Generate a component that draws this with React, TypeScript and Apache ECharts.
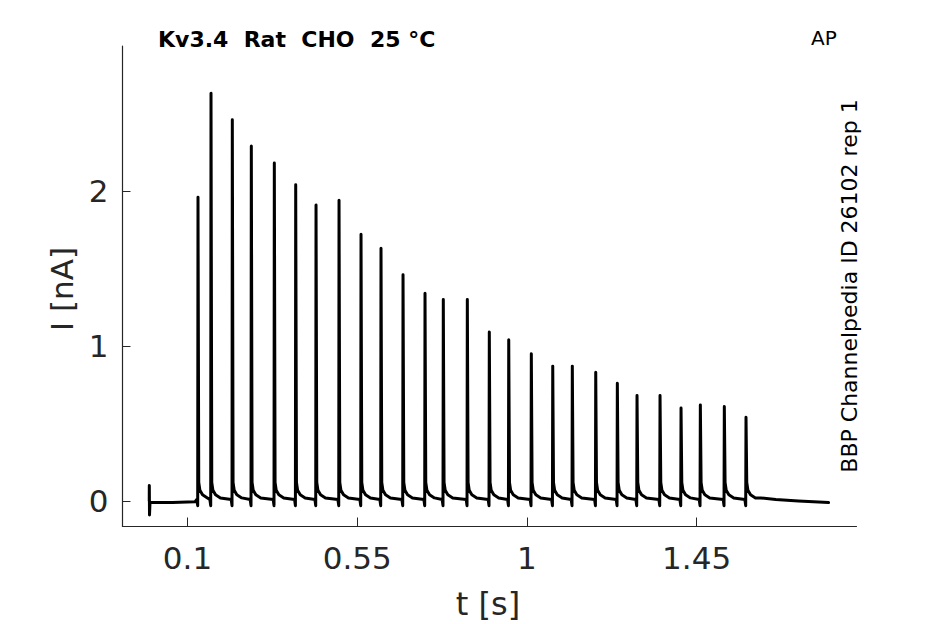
import React, { useEffect, useRef } from "react";
import * as echarts from "echarts";

// Spike peak times (s) and peak currents (nA)
const spikeTimes = [
  0.1278, 0.1623, 0.2188, 0.2692, 0.3302, 0.3869, 0.4408, 0.5018, 0.5601,
  0.6131, 0.6715, 0.7298, 0.7783, 0.842, 0.9003, 0.9518, 1.0117, 1.0685,
  1.1204, 1.1825, 1.2398, 1.292, 1.353, 1.4087, 1.4599, 1.5235, 1.581,
];
const spikePeaks = [
  1.96, 2.63, 2.46, 2.29, 2.18, 2.04, 1.91, 1.94, 1.72, 1.63, 1.46, 1.34,
  1.3, 1.3, 1.09, 1.04, 0.95, 0.87, 0.87, 0.83, 0.76, 0.68, 0.68, 0.6, 0.62,
  0.61, 0.54,
];
// Waveform around each spike: offsets (s) from the peak and levels (nA); null = the peak
const spikeOffsets = [-0.003, -0.0008, 0, 0.002, 0.005, 0.012, 0.025];
const spikeLevels: (number | null)[] = [0.01, -0.03, null, 0.12, 0.07, 0.04, 0.02];
// Start of the trace (capacitive artefact) and its end after the last spike
const leadTimes = [-0.0015, -0.0013, -0.0008, 0.0005, 0.06, 0.12];
const leadLevels = [0.0, 0.1, -0.09, -0.01, -0.01, -0.005];
const tailTimes = [1.62, 1.66, 1.72, 1.8];
const tailLevels = [0.02, 0.01, 0.0, -0.01];

const xTicks = [0.1, 0.55, 1, 1.45];
const yTicks = [0, 1, 2];

function buildTrace(): number[][] {
  const pts: number[][] = [];
  leadTimes.forEach((t, i) => pts.push([t, leadLevels[i]]));
  spikeTimes.forEach((ts, k) => {
    const next = k + 1 < spikeTimes.length ? spikeTimes[k + 1] : Infinity;
    spikeOffsets.forEach((dt, j) => {
      const t = ts + dt;
      if (dt > 0 && t > next - 0.004) return;
      const lv = spikeLevels[j];
      pts.push([t, lv === null ? spikePeaks[k] : lv]);
    });
  });
  tailTimes.forEach((t, i) => pts.push([t, tailLevels[i]]));
  return pts;
}

const AXIS_COLOR = "#262626";
const FONT = "DejaVu Sans";

export default function App() {
  const ref = useRef<HTMLDivElement>(null);
  useEffect(() => {
    if (!ref.current) return;
    const chart = echarts.init(ref.current, undefined, { renderer: "svg" });
    chart.setOption({
      animation: false,
      backgroundColor: "#ffffff",
      grid: { left: 122.5, top: 46, right: 88.5, bottom: 97.5, containLabel: false },
      xAxis: {
        type: "value",
        min: -0.0724,
        max: 1.874,
        axisLine: { show: true, onZero: false, lineStyle: { color: AXIS_COLOR, width: 1.2 } },
        axisTick: {
          show: true,
          inside: true,
          length: 9,
          customValues: xTicks,
          lineStyle: { color: AXIS_COLOR, width: 1 },
        },
        axisLabel: {
          customValues: xTicks,
          color: AXIS_COLOR,
          fontFamily: FONT,
          fontSize: 31,
          margin: 16,
        },
        splitLine: { show: false },
      },
      yAxis: {
        type: "value",
        min: -0.1645,
        max: 2.935,
        axisLine: { show: true, onZero: false, lineStyle: { color: AXIS_COLOR, width: 1.2 } },
        axisTick: {
          show: true,
          inside: true,
          length: 8,
          customValues: yTicks,
          lineStyle: { color: AXIS_COLOR, width: 1 },
        },
        axisLabel: {
          customValues: yTicks,
          color: AXIS_COLOR,
          fontFamily: FONT,
          fontSize: 31,
          margin: 14,
        },
        splitLine: { show: false },
      },
      graphic: [
        {
          type: "text",
          left: 158,
          top: 28,
          style: {
            text: "Kv3.4  Rat  CHO  25 °C",
            fontFamily: FONT,
            fontWeight: "bold",
            fontSize: 22,
            fill: "#000",
          },
        },
        {
          type: "text",
          left: 811,
          top: 28,
          style: { text: "AP", fontFamily: FONT, fontSize: 20, fill: "#000" },
        },
        {
          type: "text",
          x: 849,
          y: 286,
          rotation: Math.PI / 2,
          style: {
            text: "BBP Channelpedia ID 26102 rep 1",
            fontFamily: FONT,
            fontSize: 22,
            fill: "#000",
            align: "center",
            verticalAlign: "middle",
          },
        },
        {
          type: "text",
          x: 488,
          y: 604,
          style: {
            text: "t [s]",
            fontFamily: FONT,
            fontSize: 32,
            fill: AXIS_COLOR,
            align: "center",
            verticalAlign: "middle",
          },
        },
        {
          type: "text",
          x: 62,
          y: 289,
          rotation: Math.PI / 2,
          style: {
            text: "I [nA]",
            fontFamily: FONT,
            fontSize: 31,
            fill: AXIS_COLOR,
            align: "center",
            verticalAlign: "middle",
          },
        },
      ],
      series: [
        {
          type: "line",
          data: buildTrace(),
          showSymbol: false,
          symbol: "none",
          lineStyle: { color: "#000000", width: 3, join: "round", cap: "round" },
          silent: true,
        },
      ],
    });
    return () => chart.dispose();
  }, []);
  return (
    <div
      ref={ref}
      style={{ position: "fixed", left: 0, top: 0, width: 945, height: 624, background: "#fff" }}
    />
  );
}
